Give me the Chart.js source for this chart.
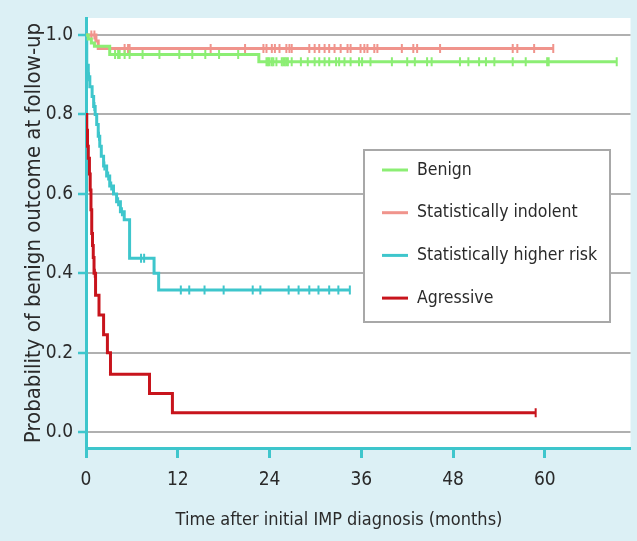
<!DOCTYPE html>
<html>
<head>
<meta charset="utf-8">
<script src="https://cdn.jsdelivr.net/npm/chart.js@4.4.1/dist/chart.umd.min.js"></script>
<style>
  html, body { margin: 0; padding: 0; background: #dcf0f5; }
</style>
</head>
<body>
<canvas id="kmChart" width="637" height="541"></canvas>
<script>
// Kaplan-Meier curves: time (months) of each step and survival after it
const seriesLabels = ["Benign", "Statistically indolent", "Statistically higher risk", "Agressive"];
const seriesColors = ["#8cee74", "#f0948c", "#3ec6cc", "#c8141c"];

const benignTime = [0, 0.3, 0.7, 1.1, 3.1, 22.6, 69.4];
const benignSurv = [1.0, 0.99, 0.98, 0.972, 0.951, 0.933, 0.933];
const benignCensor = [3.8, 4.2, 4.4, 5.05, 5.7, 7.4, 9.6, 12.2, 13.9, 15.6, 17.4, 19.9,
  23.6, 23.8, 24.0, 24.3, 24.5, 24.9, 25.6, 25.8, 26.0, 26.2, 26.4, 26.9, 28.1, 29.0,
  29.9, 30.5, 31.2, 31.8, 32.7, 33.1, 33.8, 34.6, 35.7, 36.1, 37.2, 40.0, 42.0, 43.0,
  44.6, 45.2, 48.9, 50.0, 51.4, 52.3, 53.4, 55.8, 57.5, 60.3, 60.5, 69.4];

const indolentTime = [0, 1.3, 1.6, 61.1];
const indolentSurv = [1.0, 0.985, 0.966, 0.966];
const indolentCensor = [0.7, 1.1, 5.05, 5.5, 5.7, 16.3, 20.8, 23.2, 23.6, 24.3, 24.7, 25.3,
  26.2, 26.6, 26.9, 29.2, 29.9, 30.5, 31.2, 31.8, 32.5, 33.3, 34.2, 34.6, 35.9, 36.4,
  36.8, 37.7, 38.1, 41.3, 42.8, 43.3, 46.3, 55.8, 56.4, 58.6, 61.1];

const riskTime = [0, 0.1, 0.3, 0.5, 0.8, 1.0, 1.2, 1.4, 1.6, 1.8, 2.0, 2.3, 2.7, 3.1, 3.6,
  4.0, 4.5, 5.0, 5.7, 8.9, 9.5, 34.5];
const riskSurv = [1.0, 0.924, 0.895, 0.87, 0.845, 0.82, 0.80, 0.775, 0.745, 0.72, 0.695,
  0.67, 0.645, 0.62, 0.60, 0.58, 0.555, 0.535, 0.438, 0.40, 0.358, 0.358];
const riskCensor = [0.4, 1.1, 1.7, 2.4, 2.9, 3.3, 4.2, 4.7, 7.2, 7.6, 12.4, 13.5, 15.5,
  18.0, 21.8, 22.8, 26.5, 27.8, 29.2, 30.4, 31.8, 33.0, 34.5];

const aggressiveTime = [0, 0.1, 0.2, 0.3, 0.45, 0.55, 0.65, 0.75, 0.85, 0.95, 1.05, 1.25,
  1.7, 2.3, 2.8, 3.2, 8.3, 11.3, 58.8];
const aggressiveSurv = [0.80, 0.76, 0.72, 0.69, 0.65, 0.61, 0.56, 0.50, 0.47, 0.44, 0.40,
  0.345, 0.295, 0.245, 0.20, 0.146, 0.097, 0.049, 0.049];
const aggressiveCensor = [1.15, 58.8];

const xTickValues = [0, 12, 24, 36, 48, 60];
const yTickValues = [0, 0.2, 0.4, 0.6, 0.8, 1.0];
const xTitle = "Time after initial IMP diagnosis (months)";
const yTitle = "Probability of benign outcome at follow-up";

const teal = "#3ec6cc";
const fontFamily = "'Liberation Sans Narrow', 'DejaVu Sans Condensed', sans-serif";
const textColor = "#2a2a2a";

const toPoints = (times, surv) => times.map((t, i) => ({ x: t, y: surv[i] }));

// value of the curve at time t (last step at or before t)
const levelAt = (times, surv, t) => {
  let v = surv[0];
  times.forEach((tt, i) => { if (tt <= t) v = surv[i]; });
  return v;
};

const curves = [
  [benignTime, benignSurv, benignCensor],
  [indolentTime, indolentSurv, indolentCensor],
  [riskTime, riskSurv, riskCensor],
  [aggressiveTime, aggressiveSurv, aggressiveCensor],
];

const datasets = [];
curves.forEach(([times, surv, cens], i) => {
  datasets.push({
    label: seriesLabels[i],
    data: toPoints(times, surv),
    borderColor: seriesColors[i],
    borderWidth: 3,
    stepped: true,
    pointRadius: 0,
    fill: false,
  });
  datasets.push({
    label: seriesLabels[i] + " censored",
    data: cens.map((t) => ({ x: t, y: levelAt(times, surv, t) })),
    showLine: false,
    pointStyle: "line",
    rotation: 90,
    pointRadius: 4.5,
    pointBorderWidth: 2,
    pointBorderColor: seriesColors[i],
    borderColor: seriesColors[i],
  });
});

const backgroundPlugin = {
  id: "plotBackground",
  beforeDraw(chart) {
    const { ctx, chartArea } = chart;
    ctx.save();
    ctx.fillStyle = "#dcf0f5";
    ctx.fillRect(0, 0, chart.width, chart.height);
    ctx.fillStyle = "#ffffff";
    ctx.fillRect(chartArea.left, chartArea.top, chartArea.right - chartArea.left, chartArea.bottom - chartArea.top);
    ctx.restore();
  },
};

// boxed legend inside the plot, plus the x title (the source figure is cropped on the right,
// so its title sits left of the visible plot centre)
const legendPlugin = {
  id: "boxLegend",
  afterDatasetsDraw(chart) {
    const { ctx, chartArea } = chart;
    const left = chartArea.left + 278;
    const top = chartArea.top + 132;
    ctx.save();
    ctx.fillStyle = "#ffffff";
    ctx.fillRect(left, top, 246, 172);
    ctx.strokeStyle = "#a8a8a8";
    ctx.lineWidth = 2;
    ctx.strokeRect(left, top, 246, 172);
    ctx.font = "17.5px " + fontFamily;
    ctx.textBaseline = "middle";
    seriesLabels.forEach((label, i) => {
      const y = top + 20 + i * 42.7;
      ctx.strokeStyle = seriesColors[i];
      ctx.lineWidth = 3;
      ctx.beginPath();
      ctx.moveTo(left + 18, y);
      ctx.lineTo(left + 44, y);
      ctx.stroke();
      ctx.fillStyle = textColor;
      ctx.fillText(label, left + 53, y);
    });
    ctx.font = "18px " + fontFamily;
    ctx.textAlign = "center";
    ctx.fillText(xTitle, chartArea.left + 253, chart.scales.x.bottom - 21);
    ctx.restore();
  },
};

const ctx = document.getElementById("kmChart").getContext("2d");
const kmChart = new Chart(ctx, {
  type: "line",
  data: { datasets: datasets },
  plugins: [backgroundPlugin, legendPlugin],
  options: {
    responsive: false,
    animation: false,
    layout: { padding: { top: 18, right: 1, left: 0, bottom: 0 } },
    plugins: {
      legend: { display: false },
      tooltip: { enabled: false },
    },
    scales: {
      x: {
        type: "linear",
        min: 0,
        max: 71.2,
        afterBuildTicks: (s) => { s.ticks = xTickValues.map((v) => ({ value: v })); },
        afterFit: (s) => { s.height = 93; },
        ticks: {
          font: { family: fontFamily, size: 19 },
          color: textColor,
          padding: 11,
          maxRotation: 0,
        },
        grid: {
          drawOnChartArea: false,
          tickColor: teal,
          tickLength: 10,
          tickWidth: 3,
        },
        border: { color: teal, width: 3 },
      },
      y: {
        type: "linear",
        min: -0.04,
        max: 1.043,
        afterBuildTicks: (s) => { s.ticks = yTickValues.map((v) => ({ value: v })); },
        afterFit: (s) => { s.width = 86; },
        ticks: {
          font: { family: fontFamily, size: 19 },
          color: textColor,
          padding: 5,
          callback: (v) => Number(v).toFixed(1),
        },
        grid: {
          color: "#b0b0b0",
          lineWidth: 2,
          tickColor: teal,
          tickLength: 8,
          tickWidth: 2.5,
        },
        border: { color: teal, width: 3 },
        title: {
          display: true,
          text: yTitle,
          font: { family: fontFamily, size: 22 },
          color: textColor,
          padding: { top: 21, bottom: 0 },
        },
      },
    },
  },
});
</script>
</body>
</html>
